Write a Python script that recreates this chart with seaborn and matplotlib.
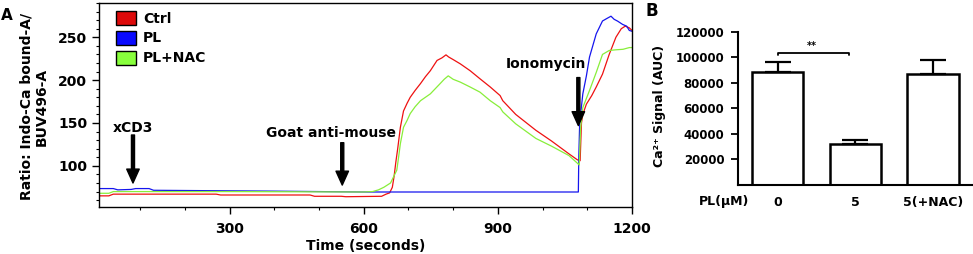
import numpy as np
import pandas as pd
import matplotlib
matplotlib.use("Agg")
import matplotlib.pyplot as plt
from matplotlib.patches import Patch
from matplotlib.ticker import MultipleLocator, FixedLocator
import seaborn as sns

# ---------------- Panel A data ----------------
ctrl_t = [8, 30, 40, 85, 90, 270, 280, 480, 490, 550, 560, 640, 650, 658, 664, 668, 672,
          676, 682, 689, 697, 704, 715, 727, 738, 749, 764, 775, 784, 790, 800, 816, 838,
          860, 883, 905, 911, 940, 985, 1020, 1059, 1078, 1084, 1087, 1090, 1098, 1110,
          1120, 1134, 1149, 1164, 1176, 1185, 1194, 1200]
ctrl_v = [65, 65, 67, 67, 67, 67, 66, 66, 64.5, 64.5, 64, 64.5, 67, 68.5, 75, 88, 105,
          120, 145, 164, 173, 180, 188, 196, 204, 211, 223, 226, 229.5, 227, 224, 219, 211,
          201.6, 192, 182, 176, 160, 141.5, 129, 114, 107, 106, 150, 160, 172, 182,
          192, 207, 230, 250, 260, 263, 261, 258]

pl_t = [8, 40, 50, 80, 90, 120, 130, 400, 600, 700, 900, 1080, 1081, 1083, 1090, 1098,
        1105, 1120, 1134, 1144, 1153, 1160, 1168, 1179, 1188, 1194, 1200]
pl_v = [73.5, 73.5, 72, 72.5, 73.5, 73.5, 71.5, 70.5, 69.5, 69.5, 69.5, 69.5, 110, 150,
        184, 205, 227, 254, 269, 272, 274.6, 271, 268.8, 265, 263, 258, 257]

nac_t = [8, 30, 40, 300, 600, 620, 633, 645, 660, 674, 678, 682, 689, 697, 704, 715, 727,
         738, 749, 760, 771, 780, 789, 800, 816, 838, 860, 883, 905, 911, 940, 985, 1020,
         1059, 1078, 1082, 1085, 1090, 1105, 1120, 1134, 1149, 1164, 1180, 1194, 1200]
nac_v = [68, 68, 70, 70, 69.5, 70, 72, 75, 80, 95, 110, 126, 145, 153, 161, 169, 176,
         180, 184, 190, 196, 201, 205, 201, 197.7, 192, 186, 176, 168, 163, 149, 132, 123,
         112, 103, 101, 144, 168, 188, 209, 230, 234.6, 235.4, 236, 238, 238]

series_names = ["Ctrl", "PL", "PL+NAC"]
line_colors = ["#ee1111", "#1515ee", "#88ee3a"]
patch_colors = ["#dd0a0a", "#0a0aff", "#88ff3c"]

# ---------------- Panel B data ----------------
b_categories = ["0", "5", "5(+NAC)"]
b_means = [88700, 32200, 86900]
b_errors = [7600, 3100, 10700]

# ---------------- style ----------------
sns.set_style("ticks")
plt.rcParams["font.family"] = ["DejaVu Sans"]
plt.rcParams["font.weight"] = "bold"
plt.rcParams["axes.labelweight"] = "bold"
for k in ["text.color", "axes.labelcolor", "xtick.color", "ytick.color",
          "axes.edgecolor", "xtick.labelcolor", "ytick.labelcolor"]:
    plt.rcParams[k] = "black"

fig = plt.figure(figsize=(9.73, 2.54), dpi=100)
W, H = 973, 254

def ax_rect(l, t, r, b):
    return [l / W, 1 - b / H, (r - l) / W, (b - t) / H]

axA = fig.add_axes(ax_rect(99, 3, 632, 207))
axB = fig.add_axes(ax_rect(738.3, 31.7, 973, 184.8))

# ---------------- Panel A ----------------
df = pd.concat([
    pd.DataFrame({"t": ctrl_t, "v": ctrl_v, "s": "Ctrl"}),
    pd.DataFrame({"t": pl_t, "v": pl_v, "s": "PL"}),
    pd.DataFrame({"t": nac_t, "v": nac_v, "s": "PL+NAC"}),
])
for name, col in zip(series_names, line_colors):
    sub = df[df["s"] == name]
    sns.lineplot(data=sub, x="t", y="v", color=col, lw=0.9, ax=axA,
                 estimator=None, sort=False, legend=False)

axA.set_xlim(8, 1200)
axA.set_ylim(52, 290)
axA.xaxis.set_major_locator(MultipleLocator(300))
axA.xaxis.set_minor_locator(MultipleLocator(100))
axA.yaxis.set_major_locator(FixedLocator([100, 150, 200, 250]))
axA.yaxis.set_minor_locator(MultipleLocator(10))
axA.minorticks_on()
axA.xaxis.set_minor_locator(MultipleLocator(100))
axA.yaxis.set_minor_locator(MultipleLocator(10))
for s in axA.spines.values():
    s.set_linewidth(1.0)
    s.set_color("black")
axA.tick_params(axis="both", which="major", length=5, width=1, labelsize=10,
                color="black", labelcolor="black")
axA.tick_params(axis="x", which="major", pad=6)
axA.tick_params(axis="both", which="minor", length=2.5, width=0.8, color="black")
for lab in axA.get_xticklabels() + axA.get_yticklabels():
    lab.set_fontweight("bold")
axA.set_xlabel("Time (seconds)", fontsize=10, fontweight="bold", labelpad=2,
               color="black")
axA.set_ylabel("")

fig.text(34 / W, 1 - 106.5 / H, "Ratio: Indo-Ca bound-A/\nBUV496-A", rotation=90,
         ha="center", va="center", multialignment="center", fontsize=10,
         fontweight="bold", linespacing=1.15, color="black")

handles = [Patch(facecolor=c, edgecolor="black", linewidth=1.0) for c in patch_colors]
leg = axA.legend(handles, series_names, loc="upper left",
                 bbox_to_anchor=((116 - 99) / 533, 1 - (11 - 3) / 204),
                 frameon=False, borderaxespad=0, borderpad=0, handlelength=1.45,
                 handleheight=1.15, handletextpad=0.5, labelspacing=0.38,
                 prop={"size": 10, "weight": "bold"})
for t in leg.get_texts():
    t.set_color("black")

arrow_kw = dict(facecolor="black", edgecolor="black", width=2.2, headwidth=9,
                headlength=10)
axA.annotate("", xy=(84, 80), xytext=(84, 136), arrowprops=arrow_kw)
axA.text(84, 144, "xCD3", ha="center", va="center", fontsize=10, fontweight="bold",
         color="black")
axA.annotate("", xy=(552, 77.6), xytext=(552, 127), arrowprops=arrow_kw)
axA.text(526, 138, "Goat anti-mouse", ha="center", va="center", fontsize=10,
         fontweight="bold", color="black")
axA.annotate("", xy=(1080, 147), xytext=(1080, 203), arrowprops=arrow_kw)
axA.text(1008, 219.4, "Ionomycin", ha="center", va="center", fontsize=10,
         fontweight="bold", color="black")

fig.text(7 / W, 1 - 15 / H, "A", ha="center", va="center", fontsize=11,
         fontweight="bold", color="black")

# ---------------- Panel B ----------------
bdf = pd.DataFrame({"cat": b_categories, "mean": b_means})
sns.barplot(data=bdf, x="cat", y="mean", color="white", edgecolor="black",
            linewidth=1.8, width=0.665, ax=axB, saturation=1)
axB.errorbar(range(len(b_categories)), b_means,
             yerr=[np.zeros(len(b_errors)), b_errors], fmt="none", ecolor="black",
             elinewidth=1.6, capsize=9.5, capthick=1.6, zorder=5)
axB.set_xlim(-0.505, 2.51)
axB.set_ylim(0, 120000)
axB.set_yticks([20000, 40000, 60000, 80000, 100000, 120000])
sns.despine(ax=axB)
for s in ["left", "bottom"]:
    axB.spines[s].set_linewidth(1.5)
    axB.spines[s].set_color("black")
axB.tick_params(axis="y", length=5, width=1.3, labelsize=8.5, pad=5, color="black",
                labelcolor="black")
axB.tick_params(axis="x", length=0, labelsize=9, pad=8, labelcolor="black")
for lab in axB.get_xticklabels() + axB.get_yticklabels():
    lab.set_fontweight("bold")
axB.set_xlabel("")
axB.set_ylabel("")

axB.plot([0, 0, 0.92, 0.92], [101800, 103600, 103600, 101800], color="black", lw=1.3)
axB.text(0.44, 108500, "**", ha="center", va="center", fontsize=7, fontweight="bold",
         color="black")

fig.text(660 / W, 1 - 105.5 / H, "Ca²⁺ Signal (AUC)", rotation=90, ha="center",
         va="center", fontsize=9, fontweight="bold", color="black")
fig.text(724 / W, 1 - 201.7 / H, "PL(μM)", ha="center", va="center", fontsize=9,
         fontweight="bold", color="black")
fig.text(652 / W, 1 - 11 / H, "B", ha="center", va="center", fontsize=12,
         fontweight="bold", color="black")

fig.savefig("out.png", dpi=100)
